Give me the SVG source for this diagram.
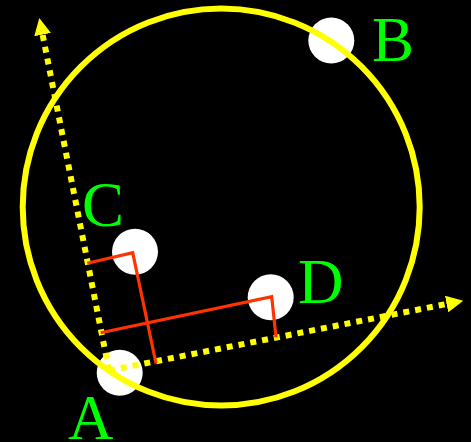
<svg xmlns="http://www.w3.org/2000/svg" width="471" height="442" viewBox="0 0 471 442">
<defs>
<style>
.dot{fill:#ffffff;}
.ring{fill:none;stroke:#ffff00;stroke-width:6;}
.axis{fill:none;stroke:#ffff00;stroke-width:6;stroke-dasharray:6 6;}
.proj{fill:none;stroke:#ff3300;stroke-width:3.2;stroke-linejoin:miter;}
.lbl{fill:#00ff00;font-family:"Liberation Serif","Times New Roman",serif;font-size:63px;}
</style>
<marker id="arr" markerUnits="userSpaceOnUse" markerWidth="17" markerHeight="17" refX="0" refY="8.5" orient="auto">
<path d="M0,0 L17,8.5 L0,17 z" fill="#ffff00"/>
</marker>
</defs>
<rect width="471" height="442" fill="#000000"/>
<g id="A"><circle class="dot" cx="119.7" cy="372.7" r="23"/><text class="lbl" x="68" y="439">A</text></g>
<g id="B"><circle class="dot" cx="331.3" cy="40.5" r="23"/><text class="lbl" x="372" y="61">B</text></g>
<g id="C"><circle class="dot" cx="135" cy="251.7" r="23"/><text class="lbl" x="82" y="226">C</text></g>
<g id="D"><circle class="dot" cx="270.7" cy="297.3" r="23"/><text class="lbl" x="298" y="302.5">D</text></g>
<g id="circle"><circle class="ring" cx="221.2" cy="207" r="198.5"/></g>
<g id="connectors">
<line class="axis" x1="109" y1="370.5" x2="42.6" y2="34.6" marker-end="url(#arr)"/>
<line class="axis" x1="109" y1="370.5" x2="446.6" y2="304" marker-end="url(#arr)"/>
<polyline class="proj" points="87.3,263.3 132.7,252.7 156,363.3"/>
<polyline class="proj" points="100.7,332.7 271.7,296.7 276,337.3"/>
</g>
</svg>
